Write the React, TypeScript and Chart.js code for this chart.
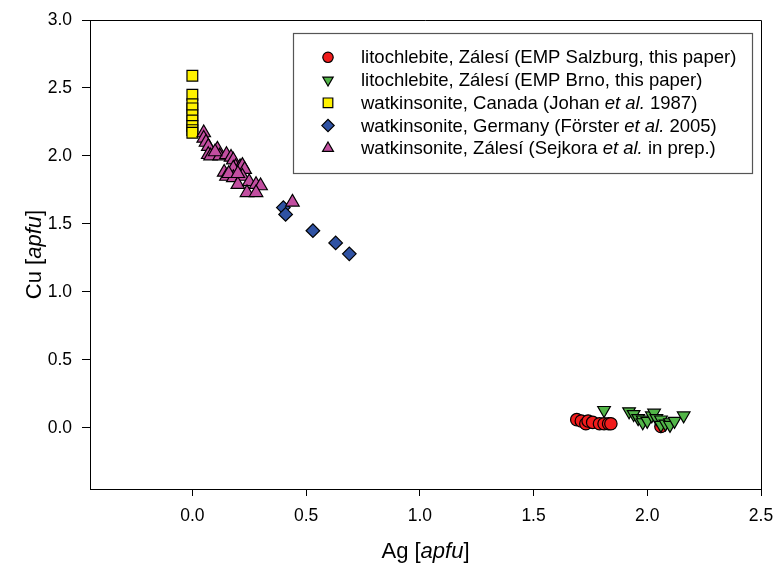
import React, { useEffect, useRef } from "react";
import { Chart, registerables } from "chart.js";
import { drawPoint } from "chart.js/helpers";

Chart.register(...registerables);

const FONT = "'Liberation Sans', Arial, Helvetica, sans-serif";

// tick labels
const xTicks = [0, 0.5, 1.0, 1.5, 2.0, 2.5];
const yTicks = [0, 0.5, 1.0, 1.5, 2.0, 2.5, 3.0];

// litochlebite, Zálesí (EMP Salzburg)
const salzburgAg = [1.69, 1.71, 1.73, 1.74, 1.76, 1.79, 1.81, 1.83, 1.84, 2.06];
const salzburgCu = [0.06, 0.05, 0.03, 0.05, 0.04, 0.03, 0.03, 0.03, 0.03, 0.01];

// litochlebite, Zálesí (EMP Brno)
const brnoAg = [1.81, 1.92, 1.94, 1.96, 1.98, 1.98, 2.0, 2.02, 2.03, 2.04, 2.06, 2.06, 2.08, 2.1, 2.1, 2.12, 2.16];
const brnoCu = [0.13, 0.12, 0.1, 0.07, 0.06, 0.04, 0.05, 0.09, 0.11, 0.07, 0.06, 0.02, 0.03, 0.04, 0.02, 0.05, 0.09];

// watkinsonite, Canada
const canadaAg = [0.0, 0.0, 0.0, 0.0, 0.0, 0.0, 0.0, 0.0, 0.0];
const canadaCu = [2.59, 2.45, 2.38, 2.35, 2.3, 2.26, 2.22, 2.19, 2.17];

// watkinsonite, Germany
const germanyAg = [0.4, 0.41, 0.53, 0.63, 0.69];
const germanyCu = [1.62, 1.57, 1.45, 1.36, 1.28];

// watkinsonite, Zálesí (Sejkora et al.)
const sejkoraAg = [0.05, 0.05, 0.06, 0.07, 0.07, 0.11, 0.08, 0.12, 0.15, 0.17, 0.18, 0.19, 0.21, 0.22, 0.23, 0.18, 0.14, 0.15, 0.18, 0.22, 0.2, 0.25, 0.28, 0.3, 0.24, 0.28, 0.16, 0.2, 0.1, 0.44];
const sejkoraCu = [2.17, 2.13, 2.1, 2.07, 2.01, 2.05, 2.0, 2.0, 2.01, 1.99, 1.97, 1.92, 1.92, 1.93, 1.9, 1.91, 1.88, 1.85, 1.84, 1.85, 1.79, 1.81, 1.79, 1.78, 1.73, 1.73, 1.87, 1.87, 2.03, 1.66];

// legend labels as [text, italic] segments
const legendLabels: [string, boolean][][] = [
  [["litochlebite, Zálesí (EMP Salzburg, this paper)", false]],
  [["litochlebite, Zálesí (EMP Brno, this paper)", false]],
  [["watkinsonite, Canada (Johan ", false], ["et al.", true], [" 1987)", false]],
  [["watkinsonite, Germany (Förster ", false], ["et al.", true], [" 2005)", false]],
  [["watkinsonite, Zálesí (Sejkora ", false], ["et al.", true], [" in prep.)", false]],
];

const xTitle: [string, boolean][] = [["Ag [", false], ["apfu", true], ["]", false]];
const yTitle: [string, boolean][] = [["Cu [", false], ["apfu", true], ["]", false]];

const seriesColors = ["#f01c1c", "#52b548", "#fff200", "#2f52a3", "#c24ea0"];
const seriesStyles = [
  { pointStyle: "circle", radius: 6.2, rotation: 0, legendRadius: 5.2 },
  { pointStyle: "triangle", radius: 7.3, rotation: 180, legendRadius: 6 },
  { pointStyle: "rect", radius: 7.6, rotation: 0, legendRadius: 6.8 },
  { pointStyle: "rectRot", radius: 6.8, rotation: 0, legendRadius: 6.2 },
  { pointStyle: "triangle", radius: 7.8, rotation: 0, legendRadius: 6.3 },
];
const seriesX = [salzburgAg, brnoAg, canadaAg, germanyAg, sejkoraAg];
const seriesY = [salzburgCu, brnoCu, canadaCu, germanyCu, sejkoraCu];
const drawOrder = [5, 4, 3, 2, 1];

function segWidth(ctx: CanvasRenderingContext2D, segs: [string, boolean][], size: number) {
  let w = 0;
  for (const [t, it] of segs) {
    ctx.font = `${it ? "italic " : ""}${size}px ${FONT}`;
    w += ctx.measureText(t).width;
  }
  return w;
}

function drawSegs(ctx: CanvasRenderingContext2D, segs: [string, boolean][], x: number, y: number, size: number) {
  let cx = x;
  ctx.textAlign = "left";
  ctx.textBaseline = "middle";
  ctx.fillStyle = "#000";
  for (const [t, it] of segs) {
    ctx.font = `${it ? "italic " : ""}${size}px ${FONT}`;
    ctx.fillText(t, cx, y);
    cx += ctx.measureText(t).width;
  }
}

const decorPlugin = {
  id: "decor",
  afterDraw(chart: any) {
    const ctx: CanvasRenderingContext2D = chart.ctx;
    const a = chart.chartArea;
    ctx.save();
    // frame top/right
    ctx.strokeStyle = "#000";
    ctx.lineWidth = 1;
    ctx.beginPath();
    ctx.moveTo(a.left, a.top + 0.5);
    ctx.lineTo(a.right + 0.5, a.top + 0.5);
    ctx.lineTo(a.right + 0.5, a.bottom);
    ctx.stroke();

    // axis titles
    const tsize = 22;
    const xw = segWidth(ctx, xTitle, tsize);
    drawSegs(ctx, xTitle, (a.left + a.right) / 2 - xw / 2, 552, tsize);
    const yw = segWidth(ctx, yTitle, tsize);
    ctx.save();
    ctx.translate(35, (a.top + a.bottom) / 2);
    ctx.rotate(-Math.PI / 2);
    drawSegs(ctx, yTitle, -yw / 2, 0, tsize);
    ctx.restore();

    // legend
    ctx.fillStyle = "#fff";
    ctx.fillRect(293, 33, 459, 140);
    ctx.strokeStyle = "#555";
    ctx.lineWidth = 1.2;
    ctx.strokeRect(293.5, 33.5, 459, 140);
    legendLabels.forEach((segs, i) => {
      const y = 57.3 + i * 22.75;
      const st = seriesStyles[i];
      ctx.fillStyle = seriesColors[i];
      ctx.strokeStyle = "#000";
      ctx.lineWidth = 1.2;
      drawPoint(ctx, { pointStyle: st.pointStyle as any, radius: st.legendRadius, rotation: st.rotation, borderWidth: 1.2 } as any, 328, y);
      drawSegs(ctx, segs, 361, y + 1, 18.5);
    });
    ctx.restore();
  },
};

export default function App() {
  const ref = useRef<HTMLCanvasElement>(null);
  useEffect(() => {
    if (!ref.current) return;
    const datasets = seriesX.map((xs, i) => ({
      label: legendLabels[i].map((s) => s[0]).join(""),
      data: xs.map((x, j) => ({ x, y: seriesY[i][j] })),
      pointStyle: seriesStyles[i].pointStyle as any,
      pointRadius: seriesStyles[i].radius,
      pointRotation: seriesStyles[i].rotation,
      backgroundColor: seriesColors[i],
      borderColor: "#000",
      borderWidth: 1.2,
      showLine: false,
      order: drawOrder[i],
    }));
    const chart = new Chart(ref.current, {
      type: "scatter",
      data: { datasets },
      plugins: [decorPlugin],
      options: {
        animation: false,
        responsive: false,
        layout: { padding: { top: 20, right: 13, left: 0, bottom: 0 } },
        plugins: { legend: { display: false }, tooltip: { enabled: false } },
        scales: {
          x: {
            type: "linear",
            min: -0.45,
            max: 2.5,
            afterBuildTicks: (s: any) => {
              s.ticks = xTicks.map((v) => ({ value: v }));
            },
            afterFit: (s: any) => {
              s.height = 79;
              s.paddingLeft = 0;
              s.paddingRight = 0;
            },
            ticks: {
              color: "#000",
              font: { family: FONT, size: 17.5 },
              padding: 10,
              callback: (v: any) => Number(v).toFixed(1),
            },
            grid: { drawOnChartArea: false, drawTicks: true, tickLength: 7, tickColor: "#000", color: "#000" },
            border: { display: true, color: "#000", width: 1 },
          },
          y: {
            type: "linear",
            min: -0.45,
            max: 3.0,
            afterBuildTicks: (s: any) => {
              s.ticks = yTicks.map((v) => ({ value: v }));
            },
            afterFit: (s: any) => {
              s.width = 90;
              s.paddingTop = 0;
              s.paddingBottom = 0;
            },
            ticks: {
              color: "#000",
              font: { family: FONT, size: 17.5 },
              padding: 10,
              callback: (v: any) => Number(v).toFixed(1),
            },
            grid: { drawOnChartArea: false, drawTicks: true, tickLength: 8, tickColor: "#000", color: "#000" },
            border: { display: true, color: "#000", width: 1 },
          },
        },
      },
    });
    return () => chart.destroy();
  }, []);
  return (
    <div style={{ position: "absolute", left: 0, top: 0, width: 774, height: 568, background: "#fff" }}>
      <canvas ref={ref} width={774} height={568} style={{ display: "block" }} />
    </div>
  );
}
